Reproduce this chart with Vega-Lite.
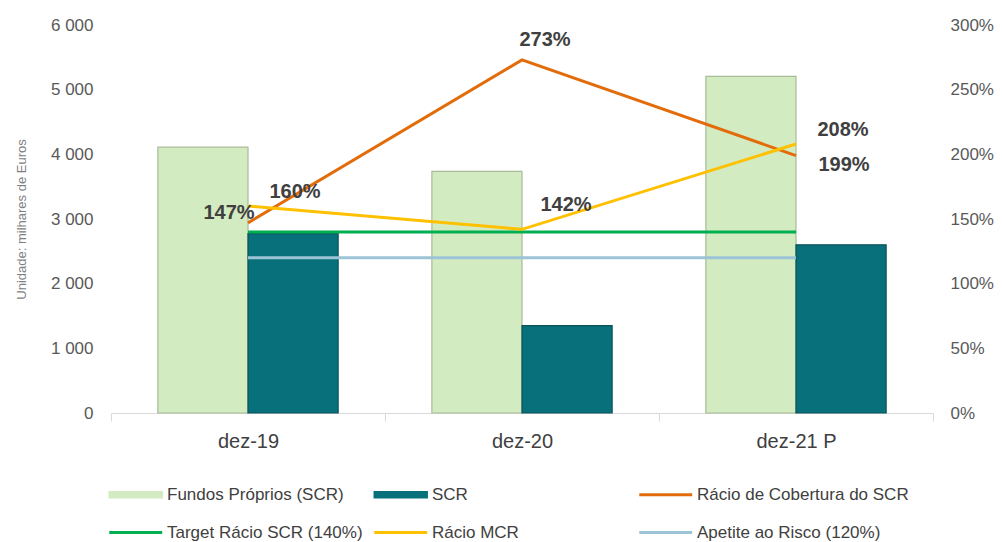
{
  "$schema": "https://vega.github.io/schema/vega-lite/v6.json",
  "autosize": {"type": "none"},
  "width": 822,
  "height": 388,
  "padding": {"left": 111, "top": 25, "right": 69, "bottom": 129},
  "background": "white",
  "config": {
    "view": {"stroke": null},
    "font": "Liberation Sans",
    "axis": {"grid": false, "labelFont": "Liberation Sans", "labelColor": "#595959", "labelFontSize": 17}
  },
  "data": {
    "values": [
      {"period": "dez-19", "series": "Fundos Próprios (SCR)", "kind": "bar", "value": 4110},
      {"period": "dez-19", "series": "SCR", "kind": "bar", "value": 2775},
      {"period": "dez-20", "series": "Fundos Próprios (SCR)", "kind": "bar", "value": 3735},
      {"period": "dez-20", "series": "SCR", "kind": "bar", "value": 1350},
      {"period": "dez-21 P", "series": "Fundos Próprios (SCR)", "kind": "bar", "value": 5205},
      {"period": "dez-21 P", "series": "SCR", "kind": "bar", "value": 2600},
      {"period": "dez-19", "series": "Rácio de Cobertura do SCR", "kind": "ratio", "value": 147, "label": "147%"},
      {"period": "dez-20", "series": "Rácio de Cobertura do SCR", "kind": "ratio", "value": 273, "label": "273%"},
      {"period": "dez-21 P", "series": "Rácio de Cobertura do SCR", "kind": "ratio", "value": 199, "label": "199%"},
      {"period": "dez-19", "series": "Target Rácio SCR (140%)", "kind": "ratio", "value": 140},
      {"period": "dez-20", "series": "Target Rácio SCR (140%)", "kind": "ratio", "value": 140},
      {"period": "dez-21 P", "series": "Target Rácio SCR (140%)", "kind": "ratio", "value": 140},
      {"period": "dez-19", "series": "Rácio MCR", "kind": "ratio", "value": 160, "label": "160%"},
      {"period": "dez-20", "series": "Rácio MCR", "kind": "ratio", "value": 142, "label": "142%"},
      {"period": "dez-21 P", "series": "Rácio MCR", "kind": "ratio", "value": 208, "label": "208%"},
      {"period": "dez-19", "series": "Apetite ao Risco (120%)", "kind": "ratio", "value": 120},
      {"period": "dez-20", "series": "Apetite ao Risco (120%)", "kind": "ratio", "value": 120},
      {"period": "dez-21 P", "series": "Apetite ao Risco (120%)", "kind": "ratio", "value": 120}
    ]
  },
  "encoding": {
    "x": {
      "field": "period", "type": "nominal", "sort": ["dez-19", "dez-20", "dez-21 P"],
      "scale": {"paddingInner": 0, "paddingOuter": 0},
      "axis": {
        "title": null, "labelAngle": 0, "labelFontSize": 20, "labelColor": "#404040",
        "domainColor": "#d9d9d9", "tickColor": "#d9d9d9", "tickSize": 8, "tickBand": "extent",
        "labelPadding": 10
      }
    }
  },
  "layer": [
    {
      "transform": [{"filter": "datum.kind == 'bar'"}],
      "mark": {"type": "bar", "strokeWidth": 1.2},
      "encoding": {
        "xOffset": {"field": "series", "type": "nominal", "sort": ["Fundos Próprios (SCR)", "SCR"], "scale": {"paddingOuter": 0.52, "paddingInner": 0}},
        "y": {
          "field": "value", "type": "quantitative", "scale": {"domain": [0, 6000]},
          "axis": {
            "orient": "left", "values": [0, 1000, 2000, 3000, 4000, 5000, 6000],
            "labelExpr": "replace(format(datum.value, ','), /,/g, ' ')",
            "domain": false, "ticks": false, "labelPadding": 18,
            "title": "Unidade: milhares de Euros", "titleFontSize": 13, "titleFontWeight": "normal",
            "titleColor": "#808080", "titlePadding": 22
          }
        },
        "color": {
          "field": "series", "type": "nominal",
          "scale": {
            "domain": ["Fundos Próprios (SCR)", "SCR", "Rácio de Cobertura do SCR", "Target Rácio SCR (140%)", "Rácio MCR", "Apetite ao Risco (120%)"],
            "range": ["#d3ebc1", "#08707a", "#e36c0a", "#00b050", "#ffc000", "#9dc3d6"]
          },
          "legend": {
            "title": null, "orient": "none", "legendX": 3, "legendY": 461, "direction": "horizontal",
            "columns": 3, "gridAlign": "all", "columnPadding": -11, "rowPadding": 20,
            "labelFontSize": 17, "labelColor": "#404040", "labelLimit": 400,
            "symbolSize": 700, "labelOffset": 36, "symbolOpacity": 1, "padding": 0,
            "encode": {
              "symbols": {
                "update": {
                  "shape": {"signal": "(datum.value == 'SCR' || datum.value == 'Fundos Próprios (SCR)') ? 'M-1,-0.22H3V0.22H-1Z' : 'M-1,0H3'"},
                  "fill": {"signal": "(datum.value == 'SCR' || datum.value == 'Fundos Próprios (SCR)') ? scale('color', datum.value) : 'transparent'"},
                  "stroke": {"signal": "datum.value == 'SCR' ? '#0b4a50' : datum.value == 'Fundos Próprios (SCR)' ? '#7d9070' : scale('color', datum.value)"},
                  "strokeWidth": {"signal": "(datum.value == 'SCR' || datum.value == 'Fundos Próprios (SCR)') ? 1.5 : 3"}
                }
              }
            }
          }
        },
        "stroke": {
          "field": "series", "type": "nominal",
          "scale": {"domain": ["Fundos Próprios (SCR)", "SCR"], "range": ["#a9bb98", "#0b5258"]},
          "legend": null
        }
      }
    },
    {
      "transform": [{"filter": "datum.kind == 'ratio'"}],
      "encoding": {
        "y": {
          "field": "value", "type": "quantitative", "scale": {"domain": [0, 300]},
          "axis": {
            "orient": "right", "values": [0, 50, 100, 150, 200, 250, 300],
            "labelExpr": "datum.value + '%'", "domain": false, "ticks": false, "labelPadding": 17, "title": null
          }
        }
      },
      "layer": [
        {
          "mark": {"type": "line", "strokeWidth": 3},
          "encoding": {
            "color": {"field": "series", "type": "nominal"},
            "detail": {"field": "series"}
          }
        },
        {
          "transform": [{"filter": "datum.label == '147%'"}],
          "mark": {"type": "text", "fontWeight": "bold", "fontSize": 20, "color": "#404040", "dx": -19, "dy": -10},
          "encoding": {"text": {"field": "label"}}
        },
        {
          "transform": [{"filter": "datum.label == '160%' || datum.label == '208%'"}],
          "mark": {"type": "text", "fontWeight": "bold", "fontSize": 20, "color": "#404040", "dx": 47, "dy": -14},
          "encoding": {"text": {"field": "label"}}
        },
        {
          "transform": [{"filter": "datum.label == '273%'"}],
          "mark": {"type": "text", "fontWeight": "bold", "fontSize": 20, "color": "#404040", "dx": 23, "dy": -20},
          "encoding": {"text": {"field": "label"}}
        },
        {
          "transform": [{"filter": "datum.label == '142%'"}],
          "mark": {"type": "text", "fontWeight": "bold", "fontSize": 20, "color": "#404040", "dx": 44, "dy": -24},
          "encoding": {"text": {"field": "label"}}
        },
        {
          "transform": [{"filter": "datum.label == '199%'"}],
          "mark": {"type": "text", "fontWeight": "bold", "fontSize": 20, "color": "#404040", "dx": 48, "dy": 9},
          "encoding": {"text": {"field": "label"}}
        }
      ]
    }
  ],
  "resolve": {"scale": {"y": "independent", "stroke": "independent"}}
}
